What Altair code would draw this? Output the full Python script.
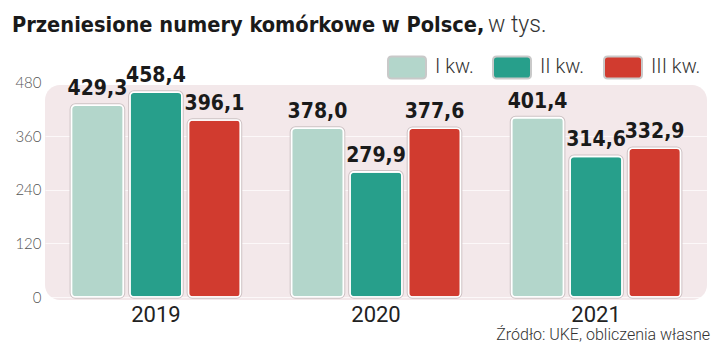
import altair as alt
import pandas as pd

years = ["2019", "2020", "2021"]
quarters = ["I kw.", "II kw.", "III kw."]
values_q1 = [429.3, 378.0, 401.4]
values_q2 = [458.4, 279.9, 314.6]
values_q3 = [396.1, 377.6, 332.9]
colors = ["#b3d6cb", "#279f8b", "#d13b2f"]
y_ticks = [0, 120, 240, 360, 480]

title_main = "Przeniesione numery komórkowe w Polsce,"
title_unit = "w tys."
source = "Źródło: UKE, obliczenia własne"

rows = []
for q, vals in zip(quarters, [values_q1, values_q2, values_q3]):
    for y, v in zip(years, vals):
        rows.append({"rok": y, "kw": q, "v": v})
df = pd.DataFrame(rows)

BOLD = "DejaVu Sans Condensed, DejaVu Sans, Roboto"
LIGHT = "Roboto, Lato, sans-serif"

W, H = 662, 215

x_enc = alt.X("rok:N", sort=years,
              scale=alt.Scale(paddingInner=0.232, paddingOuter=0.12),
              axis=alt.Axis(title=None, labelAngle=0, labelFont="Roboto",
                            labelFontSize=22, labelColor="#222222", labelPadding=4,
                            ticks=False, domain=False))
xo_enc = alt.XOffset("kw:N", sort=quarters,
                     scale=alt.Scale(paddingInner=0.111, paddingOuter=0))
y_enc = alt.Y("v:Q", scale=alt.Scale(domain=[0, 480], range=[212, -2.5], nice=False),
              axis=alt.Axis(title=None, values=y_ticks, labelFont="Lato",
                            labelFontSize=15, labelFontWeight=300,
                            labelColor="#555555", labelPadding=4,
                            ticks=False, domain=False, grid=True,
                            gridColor="#ffffff", gridOpacity=0.7, gridWidth=1))
legend_path = ("M-0.8,-0.58 L0.8,-0.58 Q1,-0.58 1,-0.38 L1,0.38 Q1,0.58 0.8,0.58 "
               "L-0.8,0.58 Q-1,0.58 -1,0.38 L-1,-0.38 Q-1,-0.58 -0.8,-0.58 Z")
c_enc = alt.Color("kw:N", sort=quarters,
                  scale=alt.Scale(domain=quarters, range=colors),
                  legend=alt.Legend(title=None, orient="none", direction="horizontal",
                                    legendX=342, legendY=-38,
                                    symbolType=legend_path, symbolSize=1444,
                                    symbolStrokeColor="#c9c9c9", symbolStrokeWidth=2,
                                    symbolOpacity=1,
                                    labelFont=LIGHT, labelFontSize=20,
                                    labelFontWeight=300,
                                    labelColor="#333333", labelOffset=8,
                                    columnPadding=15))

base = alt.Chart(df)

shadow = base.mark_bar(cornerRadius=4, stroke="#cdc2c4", strokeWidth=3.6).encode(
    x=x_enc, xOffset=xo_enc, y=y_enc, color=c_enc)
bars = base.mark_bar(cornerRadius=4, stroke="#ffffff", strokeWidth=1.6).encode(
    x=x_enc, xOffset=xo_enc, y=y_enc, color=c_enc)
labels = base.transform_calculate(
    lbl="replace(format(datum.v, '.1f'), '.', ',')"
).mark_text(font=BOLD, fontWeight="bold", fontSize=21, color="#1a1a1a",
            baseline="bottom", dy=-6).encode(
    x=x_enc, xOffset=xo_enc, y=y_enc, text="lbl:N")

t1 = alt.Chart(pd.DataFrame({"t": [title_main]})).mark_text(
    font=BOLD, fontWeight="bold", fontSize=21.6, color="#1a1a1a",
    align="left", baseline="alphabetic").encode(
    text="t:N", x=alt.value(-33), y=alt.value(-53))
t2 = alt.Chart(pd.DataFrame({"t": [title_unit]})).mark_text(
    font=LIGHT, fontSize=23, fontWeight=300, color="#333333",
    align="left", baseline="alphabetic").encode(
    text="t:N", x=alt.value(443), y=alt.value(-53))
src = alt.Chart(pd.DataFrame({"t": [source]})).mark_text(
    font=LIGHT, fontSize=16, fontWeight=300, color="#333333",
    align="right", baseline="alphabetic").encode(
    text="t:N", x=alt.value(665), y=alt.value(255))

chart = alt.layer(shadow, bars, labels, t1, t2, src).properties(
    width=W, height=H,
    autosize=alt.AutoSizeParams(type="none"),
    padding={"left": 37, "top": 77, "right": 5, "bottom": 48},
    background="#ffffff",
).configure_view(
    fill="#f3e8ea",
    cornerRadius=15, stroke=None,
)

chart.save("out.html", embed_options={"renderer": "svg", "actions": False})
